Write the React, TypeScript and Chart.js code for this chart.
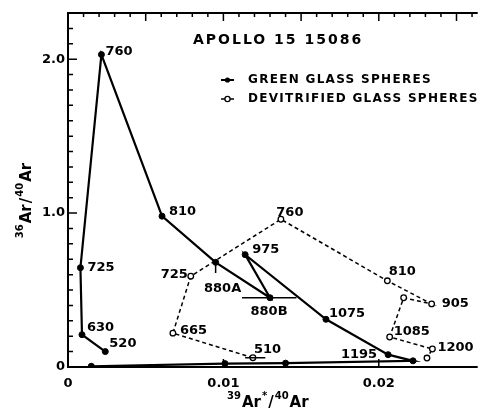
import React, { useEffect, useRef } from "react";
import { Chart, registerables } from "chart.js";
Chart.register(...registerables);

// ---------- DATA ----------
const chartTitle = "APOLLO 15 15086";
const legendLabels = ["GREEN GLASS SPHERES", "DEVITRIFIED GLASS SPHERES"];

// Green glass spheres (filled circles, solid line), temperature steps in °C
const greenLabels = ["520", "630", "725", "760", "810", "880A", "880B", "975", "1075", "1195", "", "", "", ""];
const greenX = [0.0024, 0.0009, 0.0008, 0.00215, 0.00605, 0.0095, 0.013, 0.0114, 0.0166, 0.0206, 0.0222, 0.014, 0.0101, 0.0015];
const greenY = [0.10, 0.21, 0.645, 2.03, 0.98, 0.68, 0.45, 0.73, 0.31, 0.08, 0.04, 0.025, 0.022, 0.005];

// Devitrified glass spheres (open circles, dashed line)
const devLabels = ["510", "665", "725", "760", "810", "905", "", "1085", "1200", ""];
const devX = [0.0119, 0.00675, 0.0079, 0.0137, 0.02055, 0.0234, 0.0216, 0.0207, 0.02345, 0.0231];
const devY = [0.06, 0.22, 0.59, 0.96, 0.56, 0.41, 0.45, 0.195, 0.117, 0.058];

// Error bars
const err880BX = [0.0112, 0.0147];
const err880BY = [0.45, 0.45];
const err510X = [0.0114, 0.0127];
const err510Y = [0.06, 0.06];
const err880AX = [0.0095, 0.0095];
const err880AY = [0.68, 0.61];

// Axes
const xTickValues = [0, 0.01, 0.02];
const xTickLabels = ["0", "0.01", "0.02"];
const yTickValues = [0, 1, 2];
const yTickLabels = ["0", "1.0", "2.0"];
const X_MIN = 0;
const X_MAX = 0.0263;
const Y_MIN = 0;
const Y_MAX = 2.3;
const xMinorStep = 0.001;
const xMajorStep = 0.005;
const yMinorStep = 0.1;
const xTitleParts = [
  { t: "39", sup: true },
  { t: "Ar", sup: false },
  { t: "*", sup: true },
  { t: "/", sup: false },
  { t: "40", sup: true },
  { t: "Ar", sup: false },
];
const yTitleParts = [
  { t: "36", sup: true },
  { t: "Ar", sup: false },
  { t: "/", sup: false },
  { t: "40", sup: true },
  { t: "Ar", sup: false },
];

// ---------- STYLE (label offsets in px) ----------
type LP = [number, number, CanvasTextAlign];
const greenLabelPos: LP[] = [
  [4, -8, "left"], [5, -7, "left"], [7, 0, "left"], [4, -3, "left"], [7, -5, "left"],
  [7, 26, "center"], [-1, 14, "center"], [7, -5, "left"], [3, -6, "left"], [-11, 0, "right"],
];
const devLabelPos: LP[] = [
  [1, -8, "left"], [7, -3, "left"], [-3, -2, "right"], [9, -7, "center"], [15, -9, "center"],
  [10, 0, "left"], [0, 0, "left"], [4, -5, "left"], [5, -1, "left"],
];

const FONT = "'DejaVu Sans', sans-serif";
const INK = "#000";

const zip = (xs: number[], ys: number[]) => xs.map((x, i) => ({ x, y: ys[i] }));

function setSpacing(ctx: CanvasRenderingContext2D, s: string) {
  try {
    (ctx as any).letterSpacing = s;
  } catch (e) {}
}

function drawRich(ctx: CanvasRenderingContext2D, parts: { t: string; sup: boolean }[], x: number, y: number, rotate: boolean) {
  ctx.save();
  ctx.translate(x, y);
  if (rotate) ctx.rotate(-Math.PI / 2);
  ctx.fillStyle = INK;
  ctx.textBaseline = "alphabetic";
  ctx.textAlign = "left";
  const fontFor = (sup: boolean) => (sup ? `bold 10px ${FONT}` : `bold 15px ${FONT}`);
  let total = 0;
  const widths = parts.map((p) => {
    ctx.font = fontFor(p.sup);
    const w = ctx.measureText(p.t).width + 1;
    total += w;
    return w;
  });
  let cx = -total / 2;
  parts.forEach((p, i) => {
    ctx.font = fontFor(p.sup);
    ctx.fillText(p.t, cx, p.sup ? -1 : 7);
    cx += widths[i];
  });
  ctx.restore();
}

const decorPlugin = {
  id: "decor",
  beforeDatasetsDraw(chart: any) {
    const ctx: CanvasRenderingContext2D = chart.ctx;
    const { left, right, top, bottom } = chart.chartArea;
    const xs = chart.scales.x;
    const ys = chart.scales.y;
    ctx.save();
    ctx.strokeStyle = INK;
    ctx.lineWidth = 2;
    ctx.beginPath();
    ctx.moveTo(right + 1, top);
    ctx.lineTo(left, top);
    ctx.lineTo(left, bottom);
    ctx.lineTo(right + 1, bottom);
    ctx.stroke();

    ctx.lineWidth = 1.5;
    ctx.beginPath();
    // top axis ticks (inward)
    const nX = Math.round((X_MAX - X_MIN) / xMinorStep);
    for (let i = 1; i <= nX; i++) {
      const v = X_MIN + i * xMinorStep;
      const px = xs.getPixelForValue(v);
      const major = Math.abs(v / xMajorStep - Math.round(v / xMajorStep)) < 1e-6;
      ctx.moveTo(px, top);
      ctx.lineTo(px, top + (major ? 8 : 4));
    }
    // bottom axis major ticks (inward)
    xTickValues.forEach((v) => {
      if (v === X_MIN) return;
      const px = xs.getPixelForValue(v);
      ctx.moveTo(px, bottom);
      ctx.lineTo(px, bottom - 8);
    });
    // left axis ticks (inward)
    const nY = Math.round((Y_MAX - Y_MIN) / yMinorStep);
    for (let i = 1; i <= nY; i++) {
      const v = Y_MIN + i * yMinorStep;
      const py = ys.getPixelForValue(v);
      const major = yTickValues.some((t) => Math.abs(t - v) < 1e-6);
      ctx.moveTo(left, py);
      ctx.lineTo(left + (major ? 9 : 5), py);
    }
    ctx.stroke();

    // Title
    ctx.fillStyle = INK;
    ctx.textBaseline = "middle";
    ctx.textAlign = "left";
    ctx.font = `bold 14px ${FONT}`;
    setSpacing(ctx, "2px");
    ctx.fillText(chartTitle, 193, 40);

    // Legend
    ctx.font = `bold 12px ${FONT}`;
    setSpacing(ctx, "1.3px");
    legendLabels.forEach((lab, i) => {
      const ly = 80 + i * 19;
      ctx.fillText(lab, 248, ly);
      ctx.lineWidth = i === 0 ? 2 : 1.5;
      ctx.beginPath();
      ctx.moveTo(221, ly);
      ctx.lineTo(234, ly);
      ctx.stroke();
      ctx.beginPath();
      ctx.arc(227.5, ly, 2.6, 0, Math.PI * 2);
      if (i === 0) {
        ctx.fillStyle = INK;
        ctx.fill();
      } else {
        ctx.fillStyle = "#fff";
        ctx.fill();
        ctx.lineWidth = 1.3;
        ctx.stroke();
        ctx.fillStyle = INK;
      }
    });
    setSpacing(ctx, "0px");

    // Axis titles
    drawRich(ctx, xTitleParts, (left + right) / 2 - 4, 400, false);
    drawRich(ctx, yTitleParts, 24, 200, true);
    ctx.restore();
  },
  afterDatasetsDraw(chart: any) {
    const ctx: CanvasRenderingContext2D = chart.ctx;
    ctx.save();
    ctx.fillStyle = INK;
    ctx.textBaseline = "middle";
    ctx.font = `bold 13px ${FONT}`;
    setSpacing(ctx, "0px");
    const sets: [number, string[], LP[]][] = [
      [0, greenLabels, greenLabelPos],
      [1, devLabels, devLabelPos],
    ];
    sets.forEach(([di, labels, pos]) => {
      const meta = chart.getDatasetMeta(di);
      labels.forEach((lab, i) => {
        if (!lab) return;
        const el = meta.data[i];
        const p = pos[i] || [5, -5, "left"];
        ctx.textAlign = p[2];
        ctx.fillText(lab, el.x + p[0], el.y + p[1]);
      });
    });
    ctx.restore();
  },
};

export default function App() {
  const ref = useRef<HTMLCanvasElement>(null);
  useEffect(() => {
    if (!ref.current) return;
    const errStyle = {
      showLine: true,
      borderColor: INK,
      borderWidth: 1.5,
      pointRadius: 0,
      pointHoverRadius: 0,
      fill: false,
    };
    const chart = new Chart(ref.current, {
      type: "scatter",
      data: {
        datasets: [
          {
            label: legendLabels[0],
            data: zip(greenX, greenY),
            showLine: true,
            borderColor: INK,
            borderWidth: 2.2,
            pointRadius: 3,
            pointBackgroundColor: INK,
            pointBorderColor: INK,
            pointBorderWidth: 1,
            fill: false,
            order: 2,
          },
          {
            label: legendLabels[1],
            data: zip(devX, devY),
            showLine: true,
            borderColor: INK,
            borderWidth: 1.5,
            borderDash: [4, 3],
            pointRadius: 2.8,
            pointBackgroundColor: "#fff",
            pointBorderColor: INK,
            pointBorderWidth: 1.3,
            fill: false,
            order: 1,
          },
          { label: "err880B", data: zip(err880BX, err880BY), ...errStyle },
          { label: "err510", data: zip(err510X, err510Y), ...errStyle },
          { label: "err880A", data: zip(err880AX, err880AY), ...errStyle },
        ],
      },
      options: {
        animation: false,
        responsive: false,
        maintainAspectRatio: false,
        devicePixelRatio: 1,
        layout: { padding: { top: 13, right: 1, left: 0, bottom: 0 } },
        plugins: {
          legend: { display: false },
          title: { display: false },
          tooltip: { enabled: false },
        },
        elements: { line: { tension: 0 } },
        scales: {
          x: {
            type: "linear",
            min: X_MIN,
            max: X_MAX,
            grid: { display: false, drawTicks: false },
            border: { display: false },
            afterBuildTicks: (s: any) => {
              s.ticks = xTickValues.map((v) => ({ value: v }));
            },
            afterFit: (s: any) => {
              s.height = 48;
              s.paddingLeft = 0;
              s.paddingRight = 0;
            },
            ticks: {
              autoSkip: false,
              maxRotation: 0,
              padding: 9,
              color: INK,
              font: { family: FONT, size: 13, weight: "bold" },
              callback: (v: any) => {
                const i = xTickValues.findIndex((t) => Math.abs(t - Number(v)) < 1e-9);
                return i >= 0 ? xTickLabels[i] : "";
              },
            },
          },
          y: {
            type: "linear",
            min: Y_MIN,
            max: Y_MAX,
            grid: { display: false, drawTicks: false },
            border: { display: false },
            afterBuildTicks: (s: any) => {
              s.ticks = yTickValues.map((v) => ({ value: v }));
            },
            afterFit: (s: any) => {
              s.width = 68;
              s.paddingTop = 0;
              s.paddingBottom = 0;
            },
            ticks: {
              autoSkip: false,
              padding: 3,
              color: INK,
              font: { family: FONT, size: 13, weight: "bold" },
              callback: (v: any) => {
                const i = yTickValues.findIndex((t) => Math.abs(t - Number(v)) < 1e-9);
                return i >= 0 ? yTickLabels[i] : "";
              },
            },
          },
        },
      },
      plugins: [decorPlugin],
    } as any);
    return () => chart.destroy();
  }, []);
  return (
    <div style={{ position: "absolute", left: 0, top: 0, width: 482, height: 415, background: "#fff" }}>
      <canvas ref={ref} width={482} height={415} style={{ display: "block", width: 482, height: 415 }} />
    </div>
  );
}
